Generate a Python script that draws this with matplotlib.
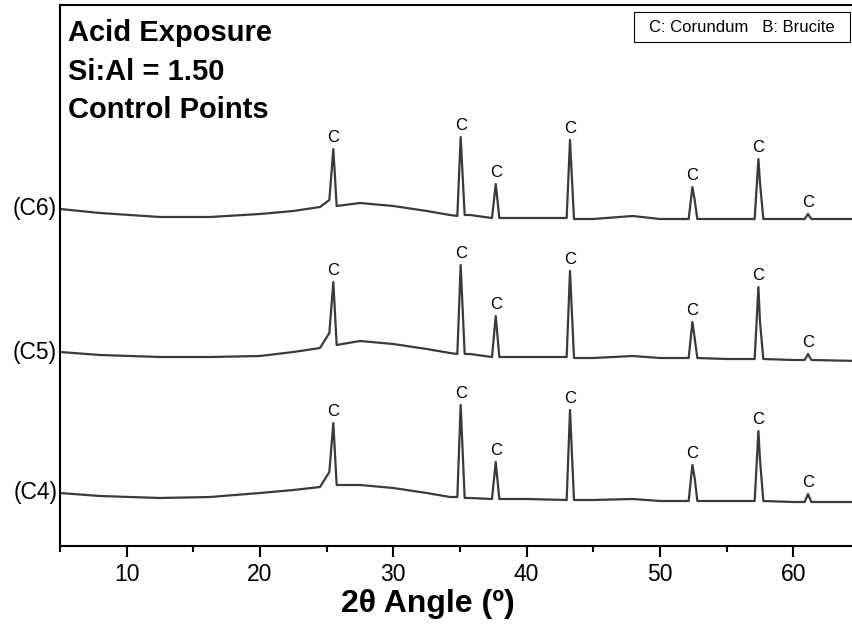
import matplotlib
matplotlib.use("Agg")
import matplotlib.pyplot as plt
from matplotlib.patches import Rectangle
from matplotlib.ticker import MultipleLocator

plt.rcParams['font.family'] = ['Liberation Sans', 'DejaVu Sans']

# 2-theta positions (baseline points and peak tops)
two_theta = [5, 8, 12.5, 16.25, 20, 22.5, 24.5, 25.2, 25.5, 25.75,
             27.5, 30, 32.5, 34.25, 34.8, 35.05, 35.35, 35.75,
             37.4, 37.68, 37.95, 40, 43.0, 43.25, 43.55, 45, 47.95, 50,
             52.15, 52.43, 52.6, 52.8, 55, 57.1, 57.38, 57.5, 57.75,
             60, 60.85, 61.1, 61.35, 65]

# stacked intensities (arbitrary units, offsets included)
c6 = [337, 333, 329, 329, 332, 335, 339, 346, 397, 340,
      343, 340, 335, 331, 330, 409, 331, 331,
      328, 362, 328, 328, 328, 406, 327, 327, 330, 327,
      327, 359, 346, 327, 327, 327, 387, 363, 327,
      327, 327, 332, 327, 327]
c5 = [194, 191, 189, 189, 190, 194, 198, 213, 264, 201,
      205, 202, 197, 193, 192, 281, 192, 192,
      189, 230, 189, 189, 189, 275, 188, 188, 190, 188,
      188, 224, 208, 188, 187, 187, 259, 224, 187,
      186, 186, 192, 186, 185]
c4 = [53, 50, 48, 49, 53, 56, 59, 74, 123, 61,
      61, 58, 53, 49, 49, 141, 48, 48,
      47, 84, 47, 47, 46, 136, 46, 46, 47, 45,
      45, 81, 68, 45, 45, 45, 115, 86, 45,
      44, 44, 52, 44, 44]

samples = ['(C4)', '(C5)', '(C6)']
corundum_peaks = [25.5, 35.05, 37.68, 43.25, 52.43, 57.38, 61.1]

fig = plt.figure(figsize=(8.52, 6.31), dpi=100)
ax = fig.add_axes([60/852, 85/631, 800/852, 541/631])

for name, y in zip(samples, [c4, c5, c6]):
    ax.plot(two_theta, y, color='#3a3a3a', lw=1.6)
    # sample name left of the axis, at the start of the trace
    ax.annotate(name, xy=(two_theta[0], y[0]), xytext=(-2, 0),
                textcoords='offset points', ha='right', va='center',
                fontsize=16.5, annotation_clip=False)
    for p in corundum_peaks:
        top = y[two_theta.index(p)]
        ax.annotate('C', xy=(p, top), xytext=(0, 3), textcoords='offset points',
                    ha='center', va='bottom', fontsize=12)

ax.set_xlim(5, 65)
ax.set_ylim(0, 541)
ax.xaxis.set_major_locator(MultipleLocator(10))
ax.xaxis.set_minor_locator(MultipleLocator(5))
ax.set_yticks([])
ax.tick_params(axis='x', which='major', direction='out', length=8, width=1.5,
               labelsize=16.5, pad=4)
ax.tick_params(axis='x', which='minor', direction='out', length=4.3, width=1.5)
for s in ax.spines.values():
    s.set_linewidth(1.5)

fig.text(428/852, 1 - 604/631, '2θ Angle (º)', ha='center', va='center',
         fontsize=23, fontweight='bold')

for i, line in enumerate(['Acid Exposure', 'Si:Al = 1.50', 'Control Points']):
    fig.text(68/852, 1 - (33 + 38.5*i)/631, line, ha='left', va='center',
             fontsize=21, fontweight='bold')

fig.patches.append(Rectangle((634/852, 1 - 42/631), 216/852, 30/631,
                             transform=fig.transFigure, fill=False,
                             edgecolor='black', lw=0.8))
fig.text(742/852, 1 - 27/631, 'C: Corundum   B: Brucite', ha='center',
         va='center', fontsize=12)

fig.savefig('out.png', dpi=100)
